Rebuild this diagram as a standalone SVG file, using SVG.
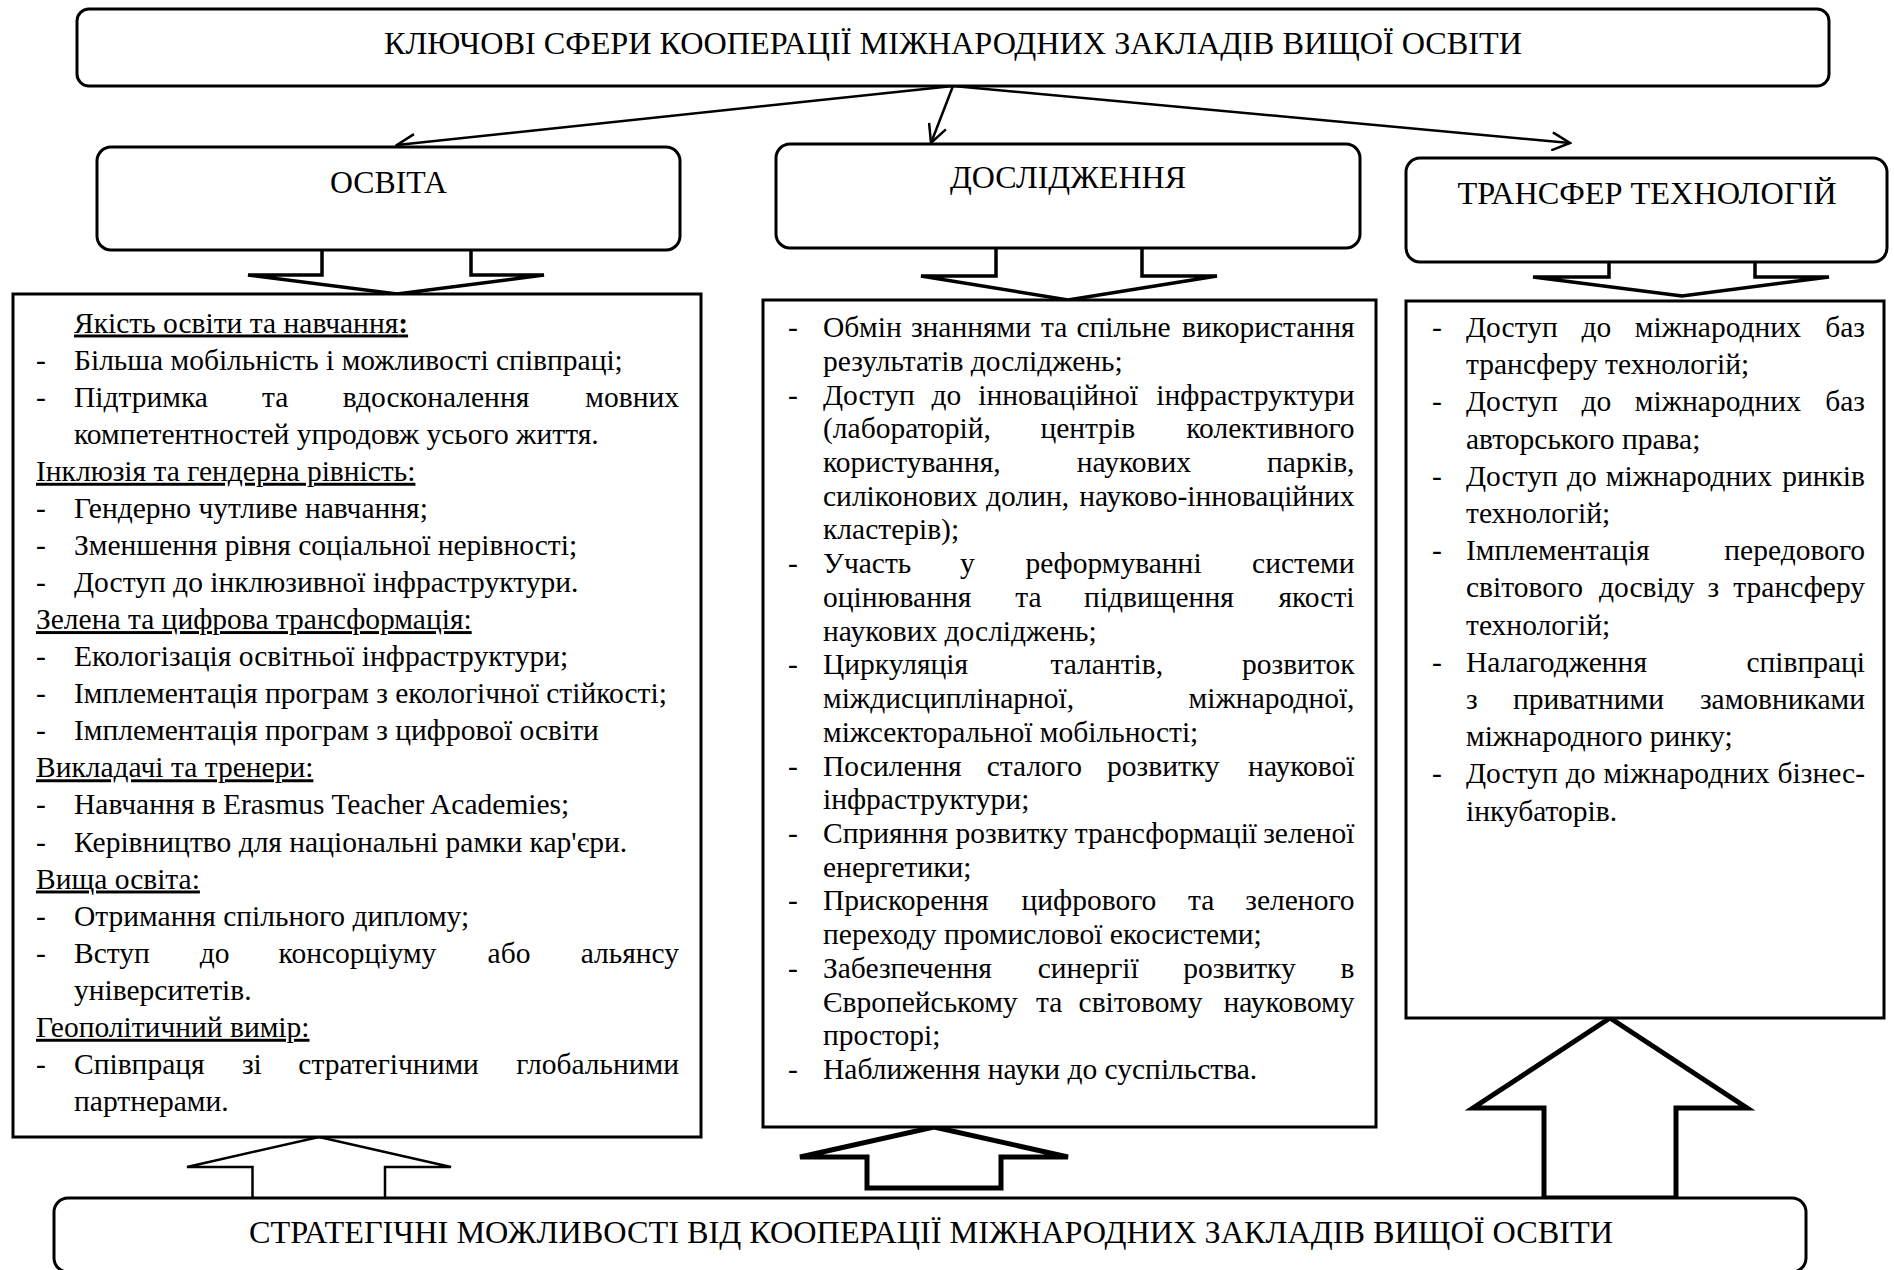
<svg xmlns="http://www.w3.org/2000/svg" width="1894" height="1270" viewBox="0 0 1894 1270">
  <style>
    .box { fill: #fff; stroke: #000; stroke-width: 3; }
    .hdr { font-family: "Liberation Serif", "Times New Roman", serif; font-size: 32px; text-anchor: middle; fill: #000; }
    .t { font-family: "Liberation Serif", "Times New Roman", serif; font-size: 29.5px; fill: #000; }
    .u { text-decoration: underline; }
    .conn { stroke: #000; stroke-width: 2.5; fill: none; marker-end: url(#vhead); }
    .blk { fill: #fff; stroke: #000; stroke-linejoin: miter; }
    .thin { stroke-width: 2.5; }
    .mid { stroke-width: 3.5; }
    .bold { stroke-width: 5; }
  </style>
  <defs>
    <marker id="vhead" viewBox="0 0 22 20" refX="20" refY="10" markerWidth="22" markerHeight="20" markerUnits="userSpaceOnUse" orient="auto">
      <path d="M2,1 L20,10 L2,19" fill="none" stroke="#000" stroke-width="2.5"/>
    </marker>
  </defs>
  <rect width="1894" height="1270" fill="#fff"/>

  <!-- connectors from the title to the three areas -->
  <g id="connectors">
    <line class="conn" x1="953" y1="86" x2="397" y2="145"/>
    <line class="conn" x1="953" y1="86" x2="931" y2="143"/>
    <line class="conn" x1="953" y1="86" x2="1570" y2="143"/>
    <!-- hollow block arrows -->
    <polyline class="blk mid" points="322,250 322,275 248,275 397,294 544,275 471,275 471,250"/>
    <polyline class="blk mid" points="996,248 996,276 921,276 1068,300 1217,276 1142,276 1142,248"/>
    <polyline class="blk mid" points="1609,262 1609,277 1533,277 1682,296 1829,277 1755,277 1755,262"/>
    <polyline class="blk thin" points="252.5,1198 252.5,1167 187,1167 319,1137 451,1167 385,1167 385,1198"/>
    <polygon class="blk bold" points="934,1127 1068,1157 1001,1157 1001,1188 867,1188 867,1157 800,1157"/>
    <polygon class="blk bold" points="1610,1018 1747,1108 1676,1108 1676,1198 1544,1198 1544,1108 1473,1108"/>
  </g>

  <g id="title">
    <rect class="box" x="77" y="9" width="1752" height="77" rx="12"/>
    <text class="hdr" x="953" y="54" textLength="1138" lengthAdjust="spacingAndGlyphs">КЛЮЧОВІ СФЕРИ КООПЕРАЦІЇ МІЖНАРОДНИХ ЗАКЛАДІВ ВИЩОЇ ОСВІТИ</text>
  </g>

  <g id="education">
    <rect class="box" x="97" y="147" width="583" height="103" rx="14"/>
    <text class="hdr" x="388.5" y="193" textLength="117" lengthAdjust="spacingAndGlyphs">ОСВІТА</text>
  </g>

  <g id="research">
    <rect class="box" x="776" y="144" width="584" height="104" rx="14"/>
    <text class="hdr" x="1068" y="188" textLength="236" lengthAdjust="spacingAndGlyphs">ДОСЛІДЖЕННЯ</text>
  </g>

  <g id="transfer">
    <rect class="box" x="1406" y="158" width="481" height="104" rx="14"/>
    <text class="hdr" x="1647" y="204" textLength="379" lengthAdjust="spacingAndGlyphs">ТРАНСФЕР ТЕХНОЛОГІЙ</text>
  </g>

  <g id="education-list">
    <rect class="box" x="13" y="294" width="688" height="843"/>
    <g class="t">
      <text x="74" y="332.5" class="u">Якість освіти та навчання<tspan font-weight="bold">:</tspan></text>
      <text x="36" y="369.6">-</text><text x="74" y="369.6">Більша мобільність і можливості співпраці;</text>
      <text x="36" y="406.6">-</text><text y="406.6"><tspan x="74">Підтримка</tspan><tspan x="262.1">та</tspan><tspan x="342.8">вдосконалення</tspan><tspan x="679" text-anchor="end">мовних</tspan></text>
      <text x="74" y="443.7">компетентностей упродовж усього життя.</text>
      <text x="36" y="480.8" class="u">Інклюзія та гендерна рівність:</text>
      <text x="36" y="517.9">-</text><text x="74" y="517.9">Гендерно чутливе навчання;</text>
      <text x="36" y="554.9">-</text><text x="74" y="554.9">Зменшення рівня соціальної нерівності;</text>
      <text x="36" y="592">-</text><text x="74" y="592">Доступ до інклюзивної інфраструктури.</text>
      <text x="36" y="629.1" class="u">Зелена та цифрова трансформація:</text>
      <text x="36" y="666.1">-</text><text x="74" y="666.1">Екологізація освітньої інфраструктури;</text>
      <text x="36" y="703.2">-</text><text x="74" y="703.2">Імплементація програм з екологічної стійкості;</text>
      <text x="36" y="740.3">-</text><text x="74" y="740.3">Імплементація програм з цифрової освіти</text>
      <text x="36" y="777.3" class="u">Викладачі та тренери:</text>
      <text x="36" y="814.4">-</text><text x="74" y="814.4">Навчання в Erasmus Teacher Academies;</text>
      <text x="36" y="851.5">-</text><text x="74" y="851.5">Керівництво для національні рамки кар'єри.</text>
      <text x="36" y="888.5" class="u">Вища освіта:</text>
      <text x="36" y="925.6">-</text><text x="74" y="925.6">Отримання спільного диплому;</text>
      <text x="36" y="962.7">-</text><text y="962.7"><tspan x="74">Вступ</tspan><tspan x="199.8">до</tspan><tspan x="278.6">консорціуму</tspan><tspan x="487.6">або</tspan><tspan x="679" text-anchor="end">альянсу</tspan></text>
      <text x="74" y="999.8">університетів.</text>
      <text x="36" y="1036.8" class="u">Геополітичний вимір:</text>
      <text x="36" y="1073.9">-</text><text y="1073.9"><tspan x="74">Співпраця</tspan><tspan x="241.9">зі</tspan><tspan x="298.3">стратегічними</tspan><tspan x="679" text-anchor="end">глобальними</tspan></text>
      <text x="74" y="1111">партнерами.</text>
    </g>
  </g>

  <g id="research-list">
    <rect class="box" x="763" y="300" width="613" height="827"/>
    <g class="t">
      <text x="788" y="337">-</text><text y="337"><tspan x="823">Обмін</tspan><tspan x="910.9">знаннями</tspan><tspan x="1041">та</tspan><tspan x="1076.4">спільне</tspan><tspan x="1354.5" text-anchor="end">використання</tspan></text>
      <text x="823" y="370.7">результатів досліджень;</text>
      <text x="788" y="404.5">-</text><text y="404.5"><tspan x="823">Доступ</tspan><tspan x="931.6">до</tspan><tspan x="978.2">інноваційної</tspan><tspan x="1354.5" text-anchor="end">інфраструктури</tspan></text>
      <text y="438.2"><tspan x="823">(лабораторій,</tspan><tspan x="1040.4">центрів</tspan><tspan x="1354.5" text-anchor="end">колективного</tspan></text>
      <text y="471.9"><tspan x="823">користування,</tspan><tspan x="1076.8">наукових</tspan><tspan x="1354.5" text-anchor="end">парків,</tspan></text>
      <text y="505.7"><tspan x="823">силіконових</tspan><tspan x="986.1">долин,</tspan><tspan x="1354.5" text-anchor="end">науково-інноваційних</tspan></text>
      <text x="823" y="539.4">кластерів);</text>
      <text x="788" y="573.1">-</text><text y="573.1"><tspan x="823">Участь</tspan><tspan x="959.9">у</tspan><tspan x="1025.4">реформуванні</tspan><tspan x="1354.5" text-anchor="end">системи</tspan></text>
      <text y="606.8"><tspan x="823">оцінювання</tspan><tspan x="1015.3">та</tspan><tspan x="1084.1">підвищення</tspan><tspan x="1354.5" text-anchor="end">якості</tspan></text>
      <text x="823" y="640.6">наукових досліджень;</text>
      <text x="788" y="674.3">-</text><text y="674.3"><tspan x="823">Циркуляція</tspan><tspan x="1050.5">талантів,</tspan><tspan x="1354.5" text-anchor="end">розвиток</tspan></text>
      <text y="708"><tspan x="823">міждисциплінарної,</tspan><tspan x="1354.5" text-anchor="end">міжнародної,</tspan></text>
      <text x="823" y="741.8">міжсекторальної мобільності;</text>
      <text x="788" y="775.5">-</text><text y="775.5"><tspan x="823">Посилення</tspan><tspan x="986.7">сталого</tspan><tspan x="1107.1">розвитку</tspan><tspan x="1354.5" text-anchor="end">наукової</tspan></text>
      <text x="823" y="809.2">інфраструктури;</text>
      <text x="788" y="843">-</text><text y="843"><tspan x="823">Сприяння</tspan><tspan x="955.6">розвитку</tspan><tspan x="1074.8">трансформації</tspan><tspan x="1354.5" text-anchor="end">зеленої</tspan></text>
      <text x="823" y="876.7">енергетики;</text>
      <text x="788" y="910.4">-</text><text y="910.4"><tspan x="823">Прискорення</tspan><tspan x="1021.5">цифрового</tspan><tspan x="1187.9">та</tspan><tspan x="1354.5" text-anchor="end">зеленого</tspan></text>
      <text x="823" y="944.1">переходу промислової екосистеми;</text>
      <text x="788" y="977.9">-</text><text y="977.9"><tspan x="823">Забезпечення</tspan><tspan x="1037.7">синергії</tspan><tspan x="1183.3">розвитку</tspan><tspan x="1354.5" text-anchor="end">в</tspan></text>
      <text y="1011.6"><tspan x="823">Європейському</tspan><tspan x="1036.1">та</tspan><tspan x="1078.6">світовому</tspan><tspan x="1354.5" text-anchor="end">науковому</tspan></text>
      <text x="823" y="1045.3">просторі;</text>
      <text x="788" y="1079">-</text><text x="823" y="1079">Наближення науки до суспільства.</text>
    </g>
  </g>

  <g id="transfer-list">
    <rect class="box" x="1406" y="301" width="478" height="717"/>
    <g class="t">
      <text x="1432" y="337">-</text><text y="337"><tspan x="1466">Доступ</tspan><tspan x="1581.4">до</tspan><tspan x="1634.8">міжнародних</tspan><tspan x="1865" text-anchor="end">баз</tspan></text>
      <text x="1466" y="374.2">трансферу технологій;</text>
      <text x="1432" y="411.4">-</text><text y="411.4"><tspan x="1466">Доступ</tspan><tspan x="1581.4">до</tspan><tspan x="1634.8">міжнародних</tspan><tspan x="1865" text-anchor="end">баз</tspan></text>
      <text x="1466" y="448.6">авторського права;</text>
      <text x="1432" y="485.8">-</text><text y="485.8"><tspan x="1466">Доступ</tspan><tspan x="1566.9">до</tspan><tspan x="1605.8">міжнародних</tspan><tspan x="1865" text-anchor="end">ринків</tspan></text>
      <text x="1466" y="523">технологій;</text>
      <text x="1432" y="560.2">-</text><text y="560.2"><tspan x="1466">Імплементація</tspan><tspan x="1865" text-anchor="end">передового</tspan></text>
      <text y="597.4"><tspan x="1466">світового</tspan><tspan x="1599">досвіду</tspan><tspan x="1707.4">з</tspan><tspan x="1865" text-anchor="end">трансферу</tspan></text>
      <text x="1466" y="634.6">технологій;</text>
      <text x="1432" y="671.8">-</text><text y="671.8"><tspan x="1466">Налагодження</tspan><tspan x="1865" text-anchor="end">співпраці</tspan></text>
      <text y="709"><tspan x="1466">з</tspan><tspan x="1512.9">приватними</tspan><tspan x="1865" text-anchor="end">замовниками</tspan></text>
      <text x="1466" y="746.2">міжнародного ринку;</text>
      <text x="1432" y="783.4">-</text><text y="783.4"><tspan x="1466">Доступ</tspan><tspan x="1565.7">до</tspan><tspan x="1603.4">міжнародних</tspan><tspan x="1865" text-anchor="end">бізнес-</tspan></text>
      <text x="1466" y="820.6">інкубаторів.</text>
    </g>
  </g>

  <g id="opportunities">
    <rect class="box" x="54" y="1198" width="1752" height="74" rx="14"/>
    <text class="hdr" x="931" y="1243" textLength="1364" lengthAdjust="spacingAndGlyphs">СТРАТЕГІЧНІ МОЖЛИВОСТІ ВІД КООПЕРАЦІЇ МІЖНАРОДНИХ ЗАКЛАДІВ ВИЩОЇ ОСВІТИ</text>
  </g>
</svg>
